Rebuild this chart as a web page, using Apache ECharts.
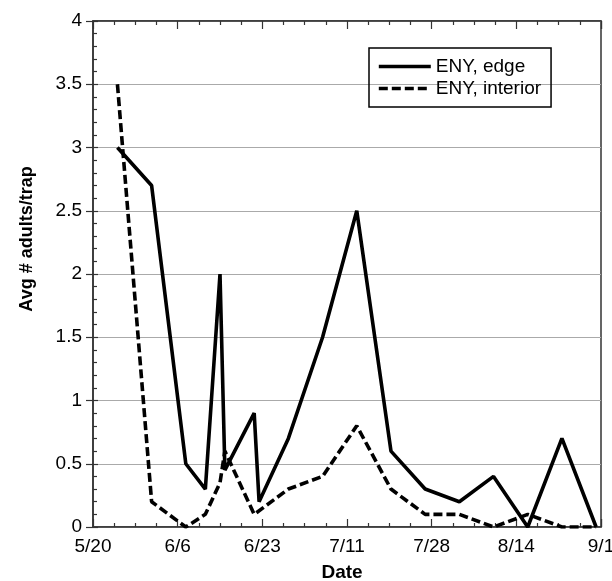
<!DOCTYPE html>
<html>
<head>
<meta charset="utf-8">
<script src="https://cdn.jsdelivr.net/npm/echarts@6/dist/echarts.min.js"></script>
<style>
html,body{margin:0;padding:0;background:#fff;}
#chart{width:612px;height:581px;}
</style>
</head>
<body>
<div id="chart"></div>
<script>
// ---- data ----
var startDate = '5/20';
var endDate = '9/1';
var xTickLabels = ['5/20', '6/6', '6/23', '7/11', '7/28', '8/14', '9/1'];

var edgeDates = ['5/25','6/1','6/8','6/12','6/15','6/16','6/22','6/23','6/29','7/6','7/13','7/20','7/27','8/3','8/10','8/17','8/24','8/31'];
var edgeValues = [3.0, 2.7, 0.5, 0.3, 2.0, 0.45, 0.9, 0.2, 0.7, 1.5, 2.5, 0.6, 0.3, 0.2, 0.4, 0, 0.7, 0];

var interiorDates = ['5/25','6/1','6/8','6/12','6/15','6/16','6/22','6/29','7/6','7/13','7/20','7/27','8/3','8/10','8/17','8/24','8/31'];
var interiorValues = [3.5, 0.2, 0, 0.1, 0.35, 0.6, 0.1, 0.3, 0.4, 0.8, 0.3, 0.1, 0.1, 0, 0.1, 0, 0];

var seriesNames = ['ENY, edge', 'ENY, interior'];

// ---- helpers ----
function dayNum(s) {
  var p = s.split('/');
  return Date.UTC(2001, +p[0] - 1, +p[1]) / 86400000;
}
var day0 = dayNum(startDate);
var span = dayNum(endDate) - day0;
var xInterval = span / (xTickLabels.length - 1);
function pairs(dates, vals) {
  return dates.map(function (d, i) { return [dayNum(d) - day0, vals[i]]; });
}

var font = '"Liberation Sans", Arial, Helvetica, sans-serif';
var axisColor = '#333';

var chart = echarts.init(document.getElementById('chart'), null, {renderer: 'canvas'});
chart.setOption({
  animation: false,
  backgroundColor: '#fff',
  textStyle: {fontFamily: font},
  grid: {left: 93, right: 11, top: 21, bottom: 54, show: true, borderColor: axisColor, borderWidth: 1.5,
         backgroundColor: 'transparent', containLabel: false, outerBoundsMode: 'none'},
  legend: {
    orient: 'vertical',
    left: 369, top: 48,
    borderColor: '#000', borderWidth: 1.5,
    padding: [9, 10, 9, 8],
    itemWidth: 52, itemHeight: 14, itemGap: 3,
    itemStyle: {opacity: 0},
    lineStyle: {width: 3.6},
    textStyle: {fontSize: 19, color: '#000', fontFamily: font},
    data: seriesNames
  },
  xAxis: [{
    type: 'value', position: 'bottom',
    min: 0, max: span, interval: xInterval,
    name: 'Date', nameLocation: 'middle', nameGap: 36,
    nameTextStyle: {fontSize: 19, fontWeight: 'bold', color: '#000', padding: [0, 10, 0, 0]},
    axisLine: {show: true, onZero: false, lineStyle: {color: axisColor, width: 1.5}},
    axisTick: {show: true, inside: true, length: 8, lineStyle: {color: axisColor, width: 1.2}},
    minorTick: {show: true, splitNumber: 4, length: 4, lineStyle: {color: axisColor, width: 1.2}},
    splitLine: {show: false},
    axisLabel: {fontSize: 19, color: '#000', margin: 10, formatter: function (v) { return xTickLabels[Math.round(v / xInterval)]; }}
  }, {
    type: 'value', position: 'top',
    min: 0, max: span, interval: xInterval,
    axisLine: {show: true, onZero: false, lineStyle: {color: axisColor, width: 1.5}},
    axisTick: {show: true, inside: true, length: 8, lineStyle: {color: axisColor, width: 1.2}},
    minorTick: {show: true, splitNumber: 4, length: 4, lineStyle: {color: axisColor, width: 1.2}},
    splitLine: {show: false},
    axisLabel: {show: false}
  }],
  yAxis: [{
    type: 'value', position: 'left',
    min: 0, max: 4, interval: 0.5,
    name: 'Avg # adults/trap', nameLocation: 'middle', nameGap: 57,
    nameTextStyle: {fontSize: 18, fontWeight: 'bold', color: '#000', padding: [0, 0, 0, 70]},
    axisLine: {show: true, onZero: false, lineStyle: {color: axisColor, width: 1.5}},
    axisTick: {show: true, inside: false, length: 7, lineStyle: {color: axisColor, width: 1.2}},
    splitLine: {show: true, lineStyle: {color: '#aaa', width: 1}},
    axisLabel: {fontSize: 19, color: '#000', margin: 11}
  }, {
    type: 'value', position: 'left',
    min: 0, max: 4, interval: 0.5,
    axisLine: {show: false},
    axisTick: {show: true, inside: true, length: 5, lineStyle: {color: axisColor, width: 1.2}},
    minorTick: {show: true, splitNumber: 5, length: 4, lineStyle: {color: axisColor, width: 1.2}},
    splitLine: {show: false},
    axisLabel: {show: false}
  }],
  series: [{
    name: seriesNames[0], type: 'line',
    data: pairs(edgeDates, edgeValues),
    symbol: 'none',
    lineStyle: {color: '#000', width: 3.6, type: 'solid'},
    itemStyle: {color: '#000'},
    z: 3
  }, {
    name: seriesNames[1], type: 'line',
    data: pairs(interiorDates, interiorValues),
    symbol: 'none',
    lineStyle: {color: '#000', width: 3.6, type: [9, 4]},
    itemStyle: {color: '#000'},
    z: 2
  }]
});
</script>
</body>
</html>
